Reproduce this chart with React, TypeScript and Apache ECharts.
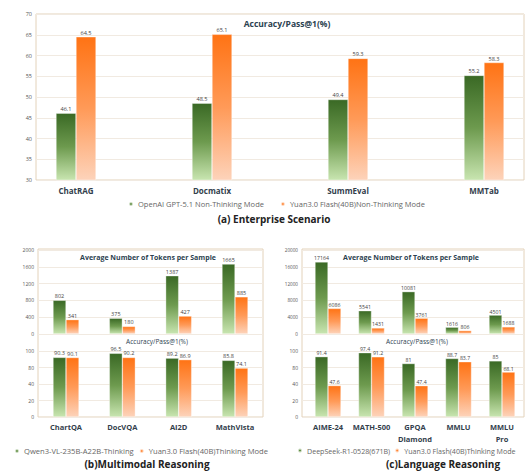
import React, { useEffect, useRef } from "react";
import * as echarts from "echarts";

// ---------- data ----------
const enterpriseCategories = ["ChatRAG", "Docmatix", "SummEval", "MMTab"];
const enterpriseGpt = [46.1, 48.5, 49.4, 55.2];
const enterpriseYuan = [64.5, 65.1, 59.3, 58.3];

const mmCategories = ["ChartQA", "DocVQA", "AI2D", "MathVista"];
const mmTokensQwen = [802, 375, 1387, 1665];
const mmTokensYuan = [341, 180, 427, 885];
const mmAccQwen = [90.3, 96.5, 89.2, 85.8];
const mmAccYuan = [90.1, 90.2, 86.9, 74.1];

const langCategories = ["AIME-24", "MATH-500", "GPQA\nDiamond", "MMLU", "MMLU\nPro"];
const langTokensDeepSeek = [17164, 5541, 10081, 1616, 4501];
const langTokensYuan = [6086, 1431, 3761, 806, 1688];
const langAccDeepSeek = [91.4, 97.4, 81, 88.7, 85];
const langAccYuan = [47.6, 91.2, 47.4, 83.7, 68.1];

const accTickLabels = ["0", "20", "40", "80", "100"];

const nameGpt = "OpenAI GPT-5.1 Non-Thinking Mode";
const nameYuanNT = "Yuan3.0 Flash(40B)Non-Thinking Mode";
const nameQwen = "Qwen3-VL-235B-A22B-Thinking";
const nameYuanT = "Yuan3.0 Flash(40B)Thinking Mode";
const nameDeepSeek = "DeepSeek-R1-0528(671B)";

// ---------- styles ----------
const FONT = "'Open Sans', 'Noto Sans', sans-serif";
const FRAME = "#e3d2ba";
const SPLIT = "#f1eae1";

const greenGrad = () =>
  new echarts.graphic.LinearGradient(0, 0, 0, 1, [
    { offset: 0, color: "#3a6925" },
    { offset: 0.5, color: "#6d9a4e" },
    { offset: 1, color: "#c8e5b0" },
  ]);
const orangeGrad = () =>
  new echarts.graphic.LinearGradient(0, 0, 0, 1, [
    { offset: 0, color: "#ff7314" },
    { offset: 0.5, color: "#ff9a58" },
    { offset: 1, color: "#fdd3ba" },
  ]);

const grids = [
  { left: 36, top: 14, width: 488, height: 166 }, // 0 A axis
  { left: 76, top: 14, width: 408, height: 166 }, // 1 A bars
  { left: 38, top: 250, width: 225, height: 84 }, // 2 B upper axis
  { left: 66, top: 250, width: 169, height: 84 }, // 3 B upper bars
  { left: 38, top: 351, width: 225, height: 66 }, // 4 B lower axis
  { left: 66, top: 351, width: 169, height: 66 }, // 5 B lower bars
  { left: 302, top: 250, width: 222, height: 84 }, // 6 C upper axis
  { left: 328, top: 250, width: 174, height: 84 }, // 7 C upper bars
  { left: 302, top: 351, width: 222, height: 66 }, // 8 C lower axis
  { left: 328, top: 351, width: 174, height: 66 }, // 9 C lower bars
];

const plainFormatter = (v: number) => String(v);
const accFormatter = (v: number) => accTickLabels[Math.round(v / 25)] ?? "";

function axisY(gridIndex: number, min: number, max: number, interval: number, fontSize: number, formatter: any) {
  return {
    type: "value",
    gridIndex,
    min,
    max,
    interval,
    axisLine: { show: false },
    axisTick: { show: false },
    axisLabel: { fontSize, color: "#555", fontFamily: FONT, margin: 4, formatter },
    splitLine: { lineStyle: { color: SPLIT, width: 1 } },
  };
}
function hiddenY(gridIndex: number, min: number, max: number) {
  return { type: "value", gridIndex, min, max, show: false };
}
function hiddenX(gridIndex: number) {
  return { type: "value", gridIndex, show: false };
}
function catX(gridIndex: number, data: string[], showLabel: boolean, fontSize: number) {
  return {
    type: "category",
    gridIndex,
    data,
    boundaryGap: false,
    axisLine: { show: false },
    axisTick: { show: false },
    axisLabel: {
      show: showLabel,
      interval: 0,
      fontSize,
      fontWeight: "bold",
      color: "#33404c",
      fontFamily: FONT,
      margin: 4,
      lineHeight: 12,
    },
  };
}
function bars(name: string, data: number[], axisIndex: number, color: any, barWidth: number, labelSize: number) {
  return {
    type: "bar",
    name,
    data,
    xAxisIndex: axisIndex,
    yAxisIndex: axisIndex,
    barWidth,
    barGap: "0%",
    itemStyle: { color, borderColor: "rgba(255,255,255,0.7)", borderWidth: 0.5 },
    label: {
      show: true,
      position: "top",
      distance: 1,
      fontSize: labelSize,
      color: "#444",
      fontFamily: FONT,
    },
  };
}

function text(x: number, y: number, t: string, fontSize: number, bold: boolean, color: string) {
  return {
    type: "text",
    x,
    y,
    silent: true,
    style: {
      text: t,
      x: 0,
      y: 0,
      align: "center",
      verticalAlign: "middle",
      fontSize,
      fontWeight: bold ? "bold" : "normal",
      fontFamily: FONT,
      fill: color,
    },
  };
}
function frame(x: number, y: number, w: number, h: number) {
  return {
    type: "rect",
    silent: true,
    z: 0,
    shape: { x, y, width: w, height: h },
    style: { fill: "none", stroke: FRAME, lineWidth: 1 },
  };
}
function legend(left: number, top: number, names: string[], fontSize: number, itemGap: number) {
  const colors = ["#5e8d40", "#ff8636"];
  return {
    left,
    top,
    width: 420,
    orient: "horizontal",
    icon: "circle",
    itemWidth: 4,
    itemHeight: 4,
    itemGap,
    selectedMode: false,
    padding: 0,
    data: names.map((n, i) => ({ name: n, itemStyle: { color: colors[i] } })),
    textStyle: { fontSize, color: "#666", fontFamily: FONT },
  };
}

export default function App() {
  const ref = useRef<HTMLDivElement>(null);
  useEffect(() => {
    if (!ref.current) return;
    const chart = echarts.init(ref.current, undefined, { renderer: "svg" });
    const option: any = {
      animation: false,
      backgroundColor: "#ffffff",
      textStyle: { fontFamily: FONT },
      grid: grids.map((g) => ({ ...g, containLabel: false, outerBoundsMode: "none" })),
      xAxis: [
        hiddenX(0),
        catX(1, enterpriseCategories, true, 8),
        hiddenX(2),
        catX(3, mmCategories, false, 7.5),
        hiddenX(4),
        catX(5, mmCategories, true, 7.5),
        hiddenX(6),
        catX(7, langCategories, false, 7.5),
        hiddenX(8),
        catX(9, langCategories, true, 7.5),
      ],
      yAxis: [
        axisY(0, 30, 70, 5, 5.5, plainFormatter),
        hiddenY(1, 30, 70),
        axisY(2, 0, 2000, 400, 5, plainFormatter),
        hiddenY(3, 0, 2000),
        axisY(4, 0, 100, 25, 5, accFormatter),
        hiddenY(5, 0, 100),
        axisY(6, 0, 20000, 4000, 4.6, plainFormatter),
        hiddenY(7, 0, 20000),
        axisY(8, 0, 100, 25, 5, accFormatter),
        hiddenY(9, 0, 100),
      ],
      legend: [
        legend(128, 200, [nameGpt, nameYuanNT], 7.5, 16),
        legend(14, 447, [nameQwen, nameYuanT], 7.6, 5),
        legend(297, 447, [nameDeepSeek, nameYuanT], 7.1, 4),
      ],
      series: [
        bars(nameGpt, enterpriseGpt, 1, greenGrad(), 20, 5.6),
        bars(nameYuanNT, enterpriseYuan, 1, orangeGrad(), 20, 5.6),
        bars(nameQwen, mmTokensQwen, 3, greenGrad(), 13, 5.5),
        bars(nameYuanT, mmTokensYuan, 3, orangeGrad(), 13, 5.5),
        bars(nameQwen, mmAccQwen, 5, greenGrad(), 13, 5.5),
        bars(nameYuanT, mmAccYuan, 5, orangeGrad(), 13, 5.5),
        bars(nameDeepSeek, langTokensDeepSeek, 7, greenGrad(), 13, 5.2),
        bars(nameYuanT, langTokensYuan, 7, orangeGrad(), 13, 5.2),
        bars(nameDeepSeek, langAccDeepSeek, 9, greenGrad(), 13, 5.2),
        bars(nameYuanT, langAccYuan, 9, orangeGrad(), 13, 5.2),
      ],
      graphic: [
        frame(36, 14, 488, 166),
        frame(38, 249, 225, 168),
        frame(302, 249, 222, 168),
        text(287, 23, "Accuracy/Pass@1(%)", 8.5, true, "#2c4250"),
        text(274, 219, "(a) Enterprise Scenario", 10, true, "#222"),
        text(148, 257, "Average Number of Tokens per Sample", 7, true, "#2c4250"),
        text(157, 341, "Accuracy/Pass@1(%)", 6.5, false, "#2c4250"),
        text(411, 257, "Average Number of Tokens per Sample", 7, true, "#2c4250"),
        text(417, 341, "Accuracy/Pass@1(%)", 6.5, false, "#2c4250"),
        text(147, 464, "(b)Multimodal Reasoning", 10, true, "#222"),
        text(443, 464, "(c)Language Reasoning", 10, true, "#222"),
      ],
    };
    chart.setOption(option);
    return () => chart.dispose();
  }, []);
  return (
    <div
      ref={ref}
      style={{ position: "fixed", left: 0, top: 0, width: 525, height: 471, background: "#fff" }}
    />
  );
}
